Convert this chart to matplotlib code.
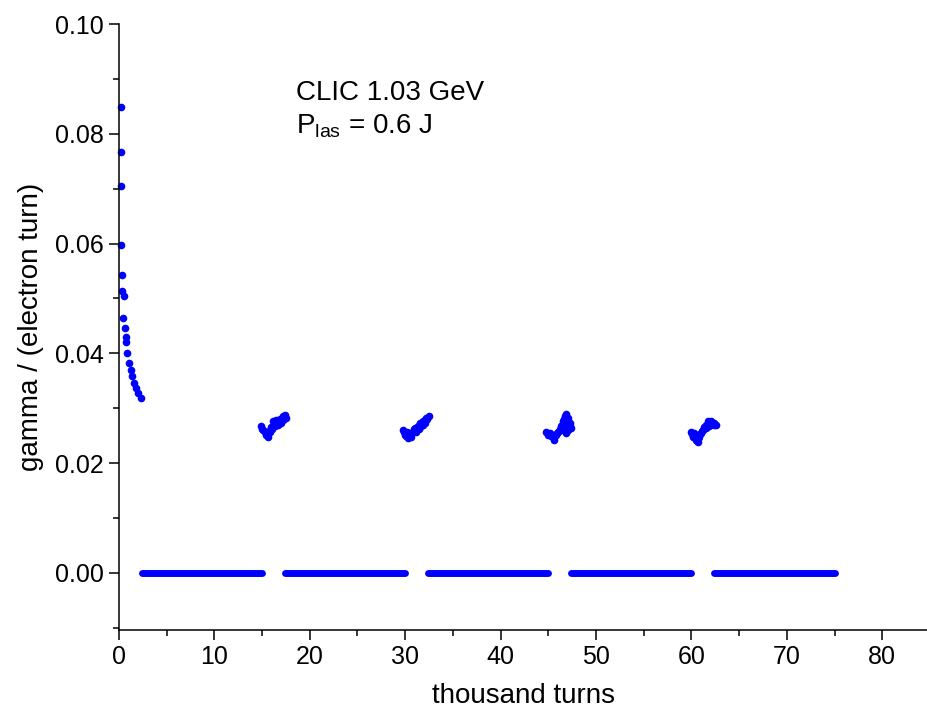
import matplotlib
matplotlib.use("Agg")
import matplotlib.pyplot as plt
from matplotlib.ticker import MultipleLocator, FormatStrFormatter

plt.rcParams["font.family"] = ["Liberation Sans", "DejaVu Sans"]
plt.rcParams["mathtext.fontset"] = "custom"
plt.rcParams["mathtext.rm"] = "Liberation Sans"

# initial decay (thousand turns, gamma per electron turn)
decay_x = [0.17, 0.17, 0.20, 0.17, 0.28, 0.28, 0.52, 0.45, 0.63, 0.73, 0.73,
           0.87, 1.08, 1.22, 1.36, 1.57, 1.78, 2.02, 2.27]
decay_y = [0.0849, 0.0767, 0.0704, 0.0597, 0.0543, 0.0514, 0.0505, 0.0464,
           0.0446, 0.0430, 0.0421, 0.0400, 0.0382, 0.0370, 0.0358, 0.0346,
           0.0337, 0.0327, 0.0318]

# recurring clusters
c1_x = [14.84, 15.11, 15.39, 15.64, 15.81, 15.99, 16.16, 16.16, 16.51, 16.86,
        17.21, 17.38, 17.56, 17.03, 16.68, 15.0, 15.3, 15.5, 15.7, 15.9,
        16.3, 16.4, 16.7, 17.0, 17.2, 17.4, 16.9]
c1_y = [0.0268, 0.0260, 0.0251, 0.0248, 0.0256, 0.0262, 0.0267, 0.0276,
        0.0279, 0.0280, 0.0285, 0.0288, 0.0282, 0.0273, 0.0270, 0.0262,
        0.0256, 0.0254, 0.0258, 0.0265, 0.0272, 0.0268, 0.0276, 0.0280,
        0.0278, 0.0283, 0.0275]
c2_x = [29.77, 29.95, 30.30, 30.47, 30.82, 31.00, 31.34, 31.52, 31.87, 32.22,
        32.50, 30.65, 31.17, 31.70, 32.04, 29.9, 30.1, 30.4, 30.6, 30.9,
        31.1, 31.4, 31.6, 31.9, 32.1, 32.3, 30.2]
c2_y = [0.0260, 0.0251, 0.0245, 0.0254, 0.0257, 0.0264, 0.0267, 0.0273,
        0.0276, 0.0282, 0.0285, 0.0248, 0.0257, 0.0267, 0.0273, 0.0256,
        0.0250, 0.0250, 0.0253, 0.0262, 0.0262, 0.0263, 0.0270, 0.0270,
        0.0278, 0.0280, 0.0257]
c3_x = [44.78, 45.13, 45.48, 45.65, 45.83, 46.00, 46.35, 46.53, 46.70, 46.88,
        47.05, 47.23, 47.40, 47.05, 46.70, 46.88, 45.0, 45.3, 45.6, 45.9,
        46.2, 46.4, 46.6, 46.8, 47.0, 47.2, 46.5, 46.9, 47.3]
c3_y = [0.0257, 0.0254, 0.0248, 0.0242, 0.0251, 0.0257, 0.0267, 0.0276,
        0.0285, 0.0290, 0.0282, 0.0273, 0.0264, 0.0260, 0.0264, 0.0254,
        0.0251, 0.0250, 0.0247, 0.0254, 0.0262, 0.0270, 0.0280, 0.0272,
        0.0276, 0.0266, 0.0260, 0.0262, 0.0268]
c4_x = [59.97, 60.14, 60.49, 60.66, 60.84, 61.01, 61.18, 61.53, 61.71, 62.06,
        62.41, 62.58, 61.88, 60.31, 60.1, 60.3, 60.5, 60.7, 60.9, 61.1,
        61.3, 61.5, 61.8, 62.2, 62.4, 60.6]
c4_y = [0.0257, 0.0248, 0.0242, 0.0238, 0.0248, 0.0254, 0.0260, 0.0270,
        0.0276, 0.0276, 0.0273, 0.0270, 0.0267, 0.0254, 0.0253, 0.0247,
        0.0250, 0.0244, 0.0253, 0.0258, 0.0265, 0.0264, 0.0272, 0.0272,
        0.0269, 0.0240]

# stretches where gamma = 0
zero_start = [2.4, 17.4, 32.4, 47.4, 62.4]
zero_end = [15.0, 30.0, 45.0, 60.0, 75.0]

blue = "#0000ff"

fig = plt.figure(figsize=(9.28, 7.15), dpi=100)
ax = fig.add_axes([0.1282, 0.1189, 0.8718, 0.8475])

for xs, ys in [(decay_x, decay_y), (c1_x, c1_y), (c2_x, c2_y),
               (c3_x, c3_y), (c4_x, c4_y)]:
    ax.plot(xs, ys, "o", color=blue, ms=5.5, mew=0, clip_on=False)

for s, e in zip(zero_start, zero_end):
    ax.plot([s, e], [0, 0], color=blue, lw=5, solid_capstyle="round")

ax.set_xlim(0, 84.8)
ax.set_ylim(-0.0104, 0.10)

for side in ["top", "right"]:
    ax.spines[side].set_visible(False)
for side in ["left", "bottom"]:
    ax.spines[side].set_linewidth(1.1)

ax.xaxis.set_major_locator(MultipleLocator(10))
ax.xaxis.set_minor_locator(MultipleLocator(5))
ax.yaxis.set_major_locator(MultipleLocator(0.02))
ax.yaxis.set_minor_locator(MultipleLocator(0.01))
ax.yaxis.set_major_formatter(FormatStrFormatter("%.2f"))
ax.tick_params(which="major", direction="out", length=7, width=1.1,
               labelsize=18, pad=4)
ax.tick_params(which="minor", direction="out", length=4.5, width=1.1)

ax.set_xlabel("thousand turns", fontsize=20, labelpad=10)
ax.set_ylabel("gamma / (electron turn)", fontsize=20, labelpad=8)

ax.text(18.6, 0.0862, "CLIC 1.03 GeV", fontsize=20)
ax.text(18.6, 0.0801, r"P$_\mathregular{las}$ = 0.6 J", fontsize=20)

fig.savefig("out.png", dpi=100)
